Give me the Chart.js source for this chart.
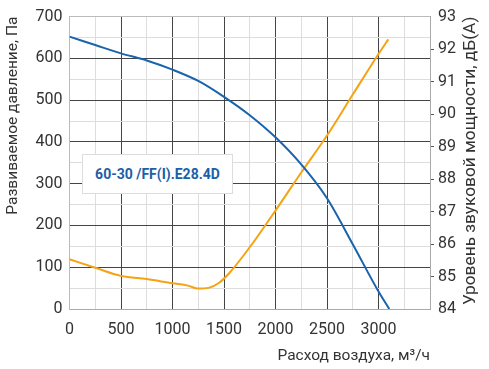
<!DOCTYPE html>
<html>
<head>
<meta charset="utf-8">
<script src="https://cdn.jsdelivr.net/npm/chart.js@4"></script>
<style>
  body { margin: 0; background: #fff; }
  #wrap { position: relative; width: 489px; height: 369px; }
  #label {
    position: absolute; left: 82px; top: 154px; width: 151px; height: 40px;
    background: #fff; border: 1px solid #ddd; box-sizing: border-box;
    font: bold 14px Roboto, sans-serif; color: #1a5fa8;
    display: flex; align-items: center; justify-content: center;
  }
</style>
</head>
<body>
<div id="wrap">
  <canvas id="chart" width="489" height="369"></canvas>
  <div id="label">60-30 /FF(I).E28.4D</div>
</div>
<script>
// Pressure curve (left axis, Pa)
const flowPressure = [0, 250, 500, 750, 1000, 1250, 1500, 1750, 2000, 2250, 2500, 2750, 3000, 3105];
const pressure = [652, 632, 612, 595, 573, 546, 508, 464, 411, 346, 265, 155, 42, 0];

// Sound power curve (right axis, dB(A))
const flowSound = [0, 250, 500, 750, 1000, 1150, 1250, 1350, 1450, 1550, 1750, 2000, 2250, 2500, 2750, 3000, 3095];
const sound = [85.53, 85.27, 85.02, 84.92, 84.79, 84.72, 84.63, 84.65, 84.8, 85.1, 85.9, 87.03, 88.2, 89.34, 90.6, 91.85, 92.3];

const xTitle = 'Расход воздуха, м³/ч';
const yTitle = 'Развиваемое давление, Па';
const y1Title = 'Уровень звуковой мощности, дБ(А)';

const textColor = '#333';
const font = { family: 'Roboto, sans-serif', size: 16 };
const titleFont = { family: 'Roboto, sans-serif', size: 15.5 };

function gridColor(major, min, max) {
  return (c) => {
    const v = c.tick.value;
    if (v === min || v === max) return '#bbb';
    return v % major === 0 ? '#444' : '#ddd';
  };
}

// right axis title reads bottom-to-top, ending at the top of the plot
const rightTitle = {
  id: 'rightTitle',
  afterDraw(chart) {
    const c = chart.ctx;
    c.save();
    c.translate(471, chart.chartArea.top);
    c.rotate(-Math.PI / 2);
    c.font = '17.3px Roboto, sans-serif';
    c.fillStyle = textColor;
    c.textAlign = 'right';
    c.textBaseline = 'middle';
    c.fillText(y1Title, 0, 0);
    c.restore();
  },
};

const ctx = document.getElementById('chart').getContext('2d');
new Chart(ctx, {
  type: 'line',
  data: {
    datasets: [
      {
        data: flowPressure.map((x, i) => ({ x, y: pressure[i] })),
        borderColor: '#1a63ad',
        borderWidth: 2,
        pointRadius: 0,
        cubicInterpolationMode: 'monotone',
        yAxisID: 'y',
      },
      {
        data: flowSound.map((x, i) => ({ x, y: sound[i] })),
        borderColor: '#f6a313',
        borderWidth: 2,
        pointRadius: 0,
        cubicInterpolationMode: 'monotone',
        yAxisID: 'y1',
      },
    ],
  },
  options: {
    responsive: false,
    animation: false,
    layout: { padding: { top: 10, left: 0, right: 0, bottom: 0 } },
    plugins: { legend: { display: false }, tooltip: { enabled: false } },
    scales: {
      x: {
        type: 'linear',
        min: 0,
        max: 3500,
        border: { color: '#aaa' },
        grid: { color: gridColor(500, 0, 3500), drawTicks: false },
        ticks: {
          stepSize: 250,
          color: textColor,
          font,
          padding: 11,
          maxRotation: 0,
          autoSkip: false,
          callback: (v) => (v % 500 === 0 && v <= 3000 ? v : ''),
        },
        title: { display: true, text: xTitle, align: 'end', color: textColor, font: titleFont, padding: { top: 1 } },
        afterFit: (s) => { s.height = 60; },
      },
      y: {
        min: 0,
        max: 700,
        border: { color: '#bbb' },
        grid: { color: gridColor(100, 0, 700), drawTicks: false },
        ticks: {
          stepSize: 50,
          color: textColor,
          font,
          padding: 7,
          autoSkip: false,
          callback: (v) => (v % 100 === 0 ? v : ''),
        },
        title: { display: true, text: yTitle, align: 'end', color: textColor, font: titleFont, padding: { bottom: 0 } },
        afterFit: (s) => { s.width = 69.5; },
      },
      y1: {
        position: 'right',
        min: 84,
        max: 93,
        border: { color: '#aaa' },
        grid: {
          drawOnChartArea: false,
          tickLength: 6,
          tickBorderDash: [3, 2],
          tickColor: (c) => (c.tick.value === 84 || c.tick.value === 93 ? 'rgba(0,0,0,0)' : '#555'),
        },
        ticks: { stepSize: 1, color: textColor, font, padding: 2 },
        title: { display: false },
        afterFit: (s) => { s.width = 59; },
      },
    },
  },
  plugins: [rightTitle],
});
</script>
</body>
</html>
